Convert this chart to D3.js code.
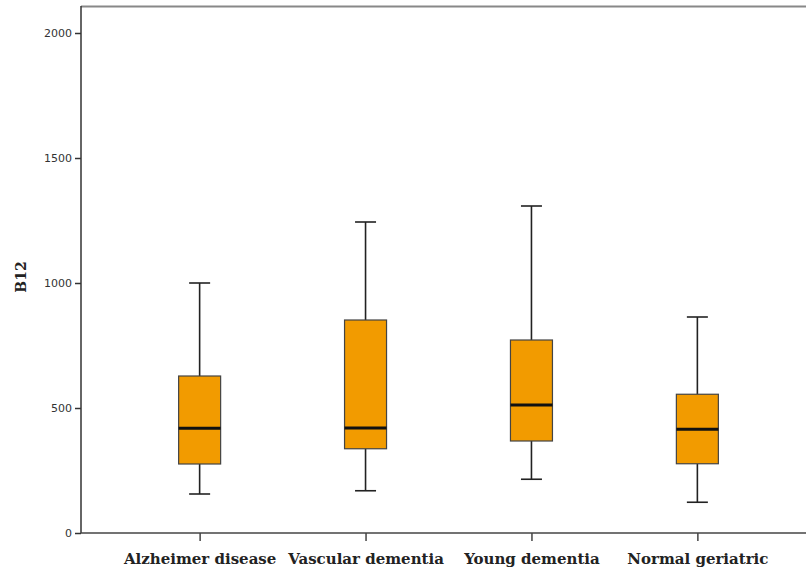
<!DOCTYPE html>
<html>
<head>
<meta charset="utf-8">
<script src="https://cdnjs.cloudflare.com/ajax/libs/d3/7.8.5/d3.min.js"></script>
<style>
  body { margin: 0; background: #fff; }
  svg { display: block; }
</style>
</head>
<body>
<svg id="chart" width="806" height="571"></svg>
<script>
// B12 box plots per group
var groups = ["Alzheimer disease", "Vascular dementia", "Young dementia", "Normal geriatric"];
var whiskLow  = [156, 169, 215, 123];
var q1        = [276, 337, 368, 277];
var median    = [419, 420, 512, 415];
var q3        = [628, 852, 772, 555];
var whiskHigh = [1000, 1244, 1308, 864];
var yTicks = [0, 500, 1000, 1500, 2000];

var svg = d3.select("#chart");
var LEFT = 81, TOP = 6, BOTTOM = 533, RIGHT = 816;
var BOX_W = 42, CAP_W = 21;

var y = d3.scaleLinear().domain([0, 2000]).range([BOTTOM, 33]);
var x = d3.scalePoint().domain(groups).range([LEFT, RIGHT]).padding(0.715);

// frame: top border
svg.append("line")
    .attr("x1", LEFT).attr("x2", 806)
    .attr("y1", TOP + 0.5).attr("y2", TOP + 0.5)
    .attr("stroke", "#888").attr("stroke-width", 2);

var yAxis = svg.append("g")
    .attr("transform", "translate(" + LEFT + ",0)")
    .call(d3.axisLeft(y).tickValues(yTicks).tickFormat(d3.format("d"))
        .tickSize(6).tickSizeOuter(0).tickPadding(3));
yAxis.select(".domain").attr("stroke", "#333").attr("stroke-width", 1.5)
    .attr("d", "M0," + TOP + "V" + BOTTOM);
yAxis.selectAll(".tick line").attr("stroke", "#333").attr("stroke-width", 1.5);
yAxis.selectAll("text")
    .style("font-family", "DejaVu Sans, Verdana, sans-serif")
    .style("font-size", "11px")
    .attr("fill", "#333");

var xAxis = svg.append("g")
    .attr("transform", "translate(0," + BOTTOM + ")")
    .call(d3.axisBottom(x).tickSize(8).tickSizeOuter(0).tickPadding(12));
xAxis.select(".domain").attr("stroke", "#444").attr("stroke-width", 1.5)
    .attr("d", "M" + LEFT + ",0H806");
xAxis.selectAll(".tick line").attr("stroke", "#444").attr("stroke-width", 1.5);
xAxis.selectAll("text")
    .style("font-family", "DejaVu Serif, Liberation Serif, serif")
    .style("font-size", "15px")
    .style("font-weight", "bold")
    .attr("fill", "#222");

svg.append("text")
    .attr("transform", "translate(26," + 277 + ") rotate(-90)")
    .attr("text-anchor", "middle")
    .style("font-family", "DejaVu Serif, Liberation Serif, serif")
    .style("font-size", "14px")
    .style("font-weight", "bold")
    .attr("fill", "#222")
    .text("B12");

var boxes = svg.append("g").selectAll("g")
    .data(groups)
    .join("g")
    .attr("transform", function(d) { return "translate(" + x(d) + ",0)"; });

boxes.each(function(d, i) {
    var g = d3.select(this);
    // whiskers
    g.append("line").attr("x1", 0).attr("x2", 0)
        .attr("y1", y(q3[i])).attr("y2", y(whiskHigh[i]))
        .attr("stroke", "#222").attr("stroke-width", 1.6);
    g.append("line").attr("x1", 0).attr("x2", 0)
        .attr("y1", y(q1[i])).attr("y2", y(whiskLow[i]))
        .attr("stroke", "#222").attr("stroke-width", 1.6);
    [whiskHigh[i], whiskLow[i]].forEach(function(v) {
        g.append("line").attr("x1", -CAP_W / 2).attr("x2", CAP_W / 2)
            .attr("y1", y(v)).attr("y2", y(v))
            .attr("stroke", "#222").attr("stroke-width", 1.6);
    });
    g.append("rect")
        .attr("x", -BOX_W / 2).attr("width", BOX_W)
        .attr("y", y(q3[i])).attr("height", y(q1[i]) - y(q3[i]))
        .attr("fill", "#F29B00").attr("stroke", "#444").attr("stroke-width", 1.2);
    g.append("line").attr("x1", -BOX_W / 2).attr("x2", BOX_W / 2)
        .attr("y1", y(median[i])).attr("y2", y(median[i]))
        .attr("stroke", "#111").attr("stroke-width", 3);
});
</script>
</body>
</html>
